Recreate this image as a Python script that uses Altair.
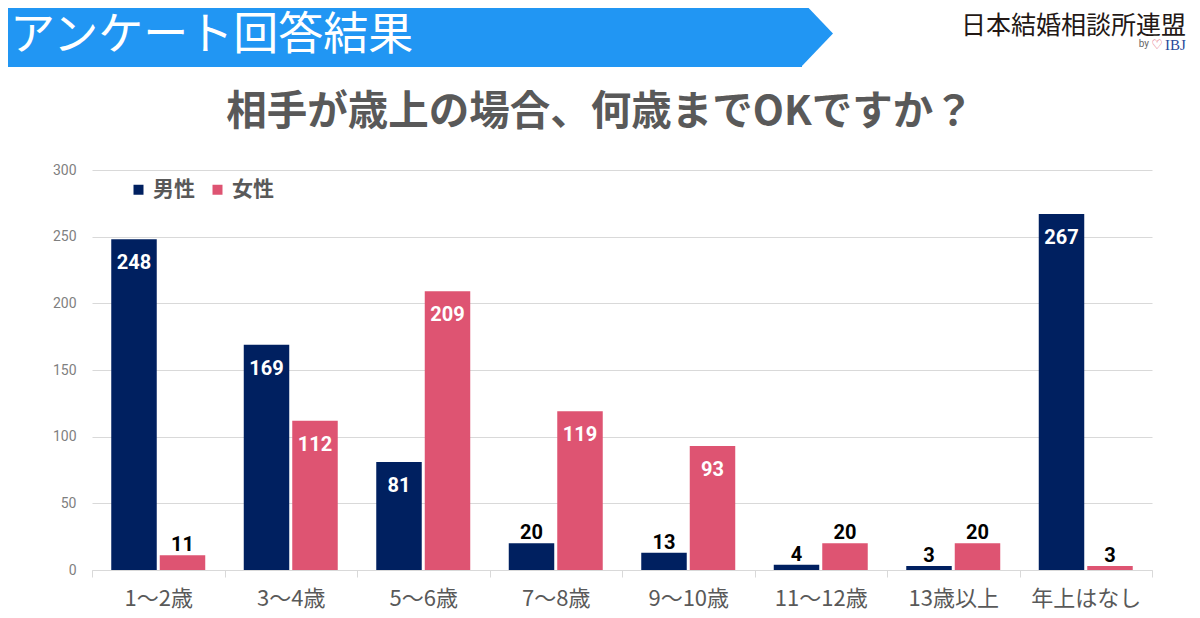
import altair as alt
import pandas as pd

categories = ["1～2歳", "3～4歳", "5～6歳", "7～8歳", "9～10歳", "11～12歳", "13歳以上", "年上はなし"]
series = ["男性", "女性"]
male = [248, 169, 81, 20, 13, 4, 3, 267]
female = [11, 112, 209, 119, 93, 20, 20, 3]
y_ticks = [0, 50, 100, 150, 200, 250, 300]

title_text = "相手が歳上の場合、何歳までOKですか？"
header_text = "アンケート回答結果"
logo_text = "日本結婚相談所連盟"

NAVY = "#002060"
PINK = "#DE5472"
BLUE = "#2196F3"
GRAY = "#595959"
FONT = "Noto Sans CJK JP"

rows = []
for c, m, f in zip(categories, male, female):
    rows.append({"cat": c, "series": series[0], "value": m})
    rows.append({"cat": c, "series": series[1], "value": f})
df = pd.DataFrame(rows)

base = alt.Chart(df)
x_enc = alt.X(
    "cat:N", sort=categories,
    scale=alt.Scale(paddingInner=0, paddingOuter=0),
    axis=alt.Axis(
        title=None, labelAngle=0, tickBand="extent", ticks=True, tickSize=7,
        tickColor="#d9d9d9", domainColor="#d9d9d9", domainWidth=1, grid=False,
        labelFont=FONT, labelFontSize=22, labelColor=GRAY, labelPadding=11,
    ),
)
xo_enc = alt.XOffset("series:N", sort=series,
                     scale=alt.Scale(paddingInner=0.062, paddingOuter=0.397))
y_enc = alt.Y(
    "value:Q", scale=alt.Scale(domain=[0, 300], nice=False),
    axis=alt.Axis(
        title=None, values=y_ticks, domain=False, ticks=False, grid=True,
        gridColor="#d9d9d9", gridWidth=1, labelFont="Roboto", labelFontSize=14,
        labelColor="#7f7f7f", labelPadding=16,
    ),
)

bars = base.mark_bar().encode(
    x=x_enc, xOffset=xo_enc, y=y_enc,
    color=alt.Color(
        "series:N", sort=series,
        scale=alt.Scale(domain=series, range=[NAVY, PINK]),
        legend=alt.Legend(
            title=None, orient="none", legendX=36, legendY=9, direction="horizontal",
            symbolType="square", symbolSize=100, symbolStrokeWidth=0,
            labelFont=FONT, labelFontSize=21, labelFontWeight="bold", labelColor=GRAY,
            labelOffset=4, columnPadding=12, padding=0,
        ),
    ),
)

text_in = base.transform_filter(alt.datum.value >= 50).mark_text(
    dy=24, color="white", fontSize=20, fontWeight="bold", font="Roboto"
).encode(x=x_enc, xOffset=xo_enc, y=y_enc, text="value:Q")

text_out = base.transform_filter(alt.datum.value < 50).mark_text(
    dy=-10, color="black", fontSize=20, fontWeight="bold", font="Roboto"
).encode(x=x_enc, xOffset=xo_enc, y=y_enc, text="value:Q")

deco = alt.Chart(pd.DataFrame({"a": [0]}))

banner = deco.mark_rect(color=BLUE).encode(
    x=alt.value(-92), x2=alt.value(710), y=alt.value(-170), y2=alt.value(-103)
)
arrow = deco.mark_point(
    shape="M0,-1L0.955,0L0,1Z", filled=True, size=4489, color=BLUE, opacity=1, strokeWidth=0
).encode(x=alt.value(709), y=alt.value(-136.5))
header = deco.mark_text(
    text=header_text, align="left", baseline="middle", fontSize=45, color="white", font=FONT
).encode(x=alt.value(-82), y=alt.value(-134))
logo = deco.mark_text(
    text=logo_text, align="right", baseline="middle", fontSize=25, color="#231815", font=FONT
).encode(x=alt.value(1094), y=alt.value(-144))
ibj = deco.mark_text(
    text="IBJ", align="left", baseline="middle", fontSize=15, color="#2a4a9a",
    font="Liberation Serif"
).encode(x=alt.value(1073), y=alt.value(-125))
heart = deco.mark_text(
    text="♡", align="center", baseline="middle", fontSize=13, color="#e0506a", font="DejaVu Sans"
).encode(x=alt.value(1065), y=alt.value(-125))
by = deco.mark_text(
    text="by", align="right", baseline="middle", fontSize=10, color="#666666", font="Roboto"
).encode(x=alt.value(1057), y=alt.value(-126))
title = deco.mark_text(
    text=title_text, align="center", baseline="middle", fontSize=40.5, fontWeight="bold",
    color=GRAY, font=FONT
).encode(x=alt.value(508), y=alt.value(-57))

chart = alt.layer(
    bars, text_in, text_out, banner, arrow, header, logo, ibj, heart, by, title
).properties(
    width=1060, height=400,
    padding={"left": 84, "top": 162, "right": 40, "bottom": 40},
    autosize=alt.AutoSizeParams(type="none"),
    background="white",
).configure_view(stroke=None)

chart.save("out.html", embed_options={"renderer": "svg", "actions": False})
